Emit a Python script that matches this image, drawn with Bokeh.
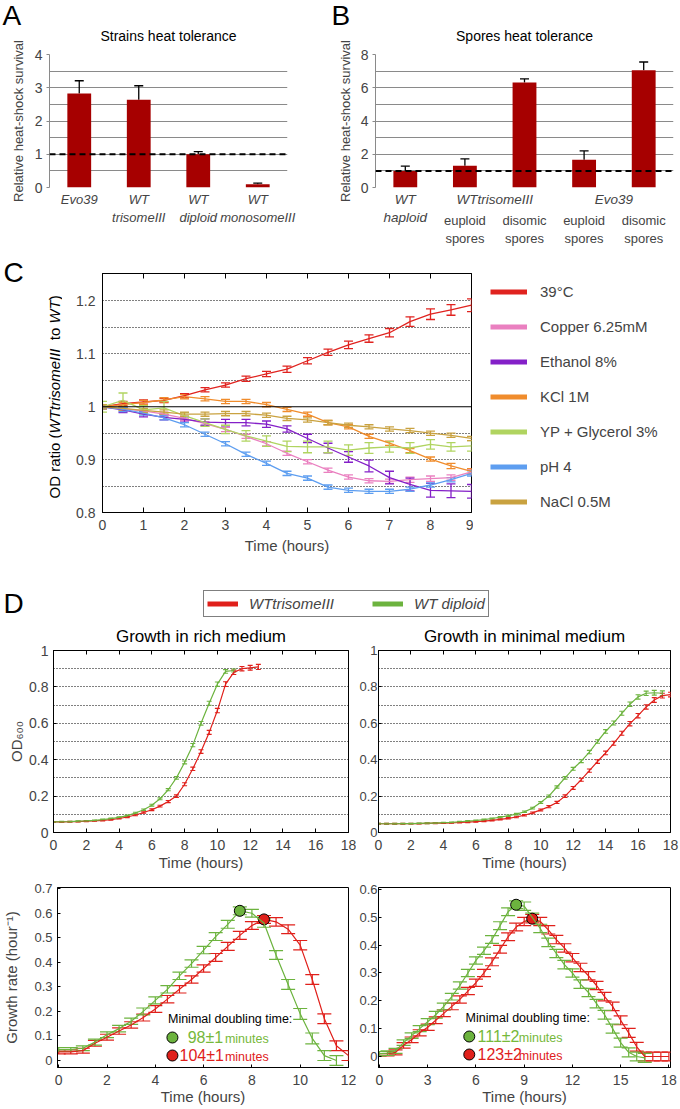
import math
from bokeh.plotting import figure
from bokeh.models import (ColumnDataSource, Whisker, TeeHead, Span, Label, Legend,
                          LegendItem, FixedTicker, LinearAxis, Range1d, Title)
from bokeh.layouts import column, row
from bokeh.embed import file_html
from bokeh.resources import INLINE

FONT = "Liberation Sans"
NAN = float("nan")

# ---------------- Panel A data ----------------
strains = ["Evo39", "WT trisomeIII", "WT diploid", "WT monosomeIII"]
strain_label_lines = [["Evo39"], ["WT", "trisomeIII"], ["WT", "diploid"], ["WT", "monosomeIII"]]
strain_survival = [2.83, 2.64, 1.00, 0.10]
strain_survival_err = [0.38, 0.42, 0.08, 0.03]
ticks_a = [0, 1, 2, 3, 4]

# ---------------- Panel B data ----------------
spore_strain = ["WT", "WTtrisomeIII", "WTtrisomeIII", "Evo39", "Evo39"]
spore_kind = ["haploid", "euploid spores", "disomic spores", "euploid spores", "disomic spores"]
spore_survival = [1.00, 1.31, 6.31, 1.67, 7.06]
spore_survival_err = [0.28, 0.41, 0.22, 0.53, 0.49]
ticks_b = [0, 2, 4, 6, 8]

# ---------------- Panel C data ----------------
hours_c = [0.0, 0.5, 1.0, 1.5, 2.0, 2.5, 3.0, 3.5, 4.0, 4.5, 5.0, 5.5, 6.0, 6.5, 7.0, 7.5, 8.0, 8.5, 9.0]
conditions = ["39°C", "Copper 6.25mM", "Ethanol 8%", "KCl 1M", "YP + Glycerol 3%", "pH 4", "NaCl 0.5M"]
condition_colors = ["#e0231f", "#ea80c0", "#8420c8", "#f08c2c", "#b0d460", "#5e9ef0", "#c9a240"]
ratio_39c = [1.000, 1.006, 1.009, 1.012, 1.021, 1.032, 1.041, 1.053, 1.062, 1.071, 1.087, 1.103, 1.117, 1.129, 1.140, 1.161, 1.175, 1.183, 1.192]
err_39c = [0.004, 0.004, 0.004, 0.004, 0.004, 0.004, 0.004, 0.005, 0.005, 0.006, 0.006, 0.006, 0.007, 0.007, 0.008, 0.009, 0.010, 0.010, 0.012]
ratio_copper = [1.000, 0.996, 0.992, 0.986, 0.978, 0.968, 0.957, 0.944, 0.930, 0.912, 0.896, 0.880, 0.867, 0.860, 0.859, 0.862, 0.864, 0.866, 0.877]
err_copper = [0.004, 0.004, 0.004, 0.004, 0.004, 0.004, 0.004, 0.004, 0.004, 0.004, 0.004, 0.004, 0.004, 0.004, 0.004, 0.005, 0.005, 0.005, 0.005]
ratio_ethanol = [1.000, 0.994, 0.986, 0.980, 0.976, 0.971, 0.970, 0.970, 0.967, 0.958, 0.940, 0.922, 0.905, 0.888, 0.866, 0.853, 0.842, 0.841, 0.840]
err_ethanol = [0.004, 0.005, 0.005, 0.005, 0.005, 0.006, 0.006, 0.006, 0.006, 0.006, 0.008, 0.009, 0.010, 0.011, 0.012, 0.012, 0.013, 0.013, 0.013]
ratio_kcl = [1.000, 1.004, 1.008, 1.013, 1.019, 1.015, 1.010, 1.010, 1.004, 0.995, 0.986, 0.970, 0.962, 0.944, 0.931, 0.917, 0.901, 0.888, 0.878]
err_kcl = [0.004, 0.004, 0.004, 0.004, 0.004, 0.004, 0.004, 0.004, 0.004, 0.004, 0.004, 0.004, 0.004, 0.004, 0.004, 0.004, 0.004, 0.005, 0.005]
ratio_glycerol = [1.000, 1.012, 0.994, 0.998, 0.983, 0.970, 0.957, 0.945, 0.935, 0.925, 0.924, 0.924, 0.918, 0.922, 0.924, 0.922, 0.929, 0.924, 0.926]
err_glycerol = [0.010, 0.014, 0.008, 0.012, 0.006, 0.007, 0.008, 0.010, 0.010, 0.010, 0.011, 0.011, 0.010, 0.010, 0.010, 0.010, 0.009, 0.008, 0.010]
ratio_ph4 = [1.000, 0.995, 0.988, 0.979, 0.966, 0.948, 0.930, 0.910, 0.893, 0.874, 0.865, 0.848, 0.842, 0.840, 0.840, 0.844, 0.852, 0.862, 0.874]
err_ph4 = [0.004, 0.004, 0.004, 0.004, 0.004, 0.004, 0.004, 0.004, 0.004, 0.004, 0.004, 0.004, 0.004, 0.004, 0.004, 0.004, 0.004, 0.004, 0.005]
ratio_nacl = [1.000, 0.997, 0.993, 0.990, 0.986, 0.986, 0.987, 0.987, 0.984, 0.978, 0.975, 0.970, 0.965, 0.962, 0.958, 0.955, 0.950, 0.946, 0.940]
err_nacl = [0.004, 0.004, 0.004, 0.004, 0.004, 0.004, 0.004, 0.004, 0.004, 0.004, 0.004, 0.004, 0.004, 0.004, 0.004, 0.004, 0.004, 0.004, 0.004]
ticks_c_x = [0, 1, 2, 3, 4, 5, 6, 7, 8, 9]
ticks_c_y = [0.8, 0.9, 1.0, 1.1, 1.2]
grid_c_y = [0.85, 0.9, 0.95, 1.05, 1.1, 1.15, 1.2]
# y-axis title of C, as (text, font style, leading spaces)
c_ylabel_parts = [("OD ratio (", "normal", 0), ("WTtrisomeIII", "italic", 0), ("to", "normal", 2),
                  ("WT", "italic", 1), (")", "normal", 0)]

# ---------------- Panel D data ----------------
strain_names = ["WTtrisomeIII", "WT diploid"]
strain_colors = ["#e0201b", "#6cb33e"]

hours_rich = [0.0, 0.5, 1.0, 1.5, 2.0, 2.5, 3.0, 3.5, 4.0, 4.5, 5.0, 5.5, 6.0, 6.5, 7.0, 7.5, 8.0, 8.5, 9.0, 9.5, 10.0, 10.5, 11.0, 11.5, 12.0, 12.5]
od_rich_trisome = [0.058, 0.058, 0.059, 0.060, 0.062, 0.064, 0.067, 0.071, 0.077, 0.085, 0.096, 0.110, 0.125, 0.145, 0.170, 0.200, 0.265, 0.350, 0.445, 0.550, 0.670, 0.815, 0.880, 0.900, 0.905, 0.910]
od_rich_trisome_err = [0.002, 0.002, 0.002, 0.002, 0.002, 0.002, 0.003, 0.003, 0.003, 0.003, 0.004, 0.004, 0.005, 0.005, 0.006, 0.007, 0.008, 0.009, 0.010, 0.011, 0.012, 0.013, 0.012, 0.012, 0.013, 0.014]
od_rich_diploid = [0.058, 0.059, 0.060, 0.062, 0.064, 0.067, 0.071, 0.076, 0.083, 0.093, 0.107, 0.125, 0.150, 0.185, 0.235, 0.300, 0.385, 0.480, 0.600, 0.710, 0.815, 0.885, 0.890]
od_rich_diploid_err = [0.002, 0.002, 0.002, 0.002, 0.002, 0.002, 0.003, 0.003, 0.003, 0.003, 0.004, 0.004, 0.005, 0.005, 0.006, 0.007, 0.008, 0.009, 0.010, 0.011, 0.012, 0.010, 0.008]

hours_min = [0.0, 0.5, 1.0, 1.5, 2.0, 2.5, 3.0, 3.5, 4.0, 4.5, 5.0, 5.5, 6.0, 6.5, 7.0, 7.5, 8.0, 8.5, 9.0, 9.5, 10.0, 10.5, 11.0, 11.5, 12.0, 12.5, 13.0, 13.5, 14.0, 14.5, 15.0, 15.5, 16.0, 16.5, 17.0, 17.5, 18.0]
od_min_trisome = [0.048, 0.048, 0.048, 0.048, 0.049, 0.049, 0.050, 0.051, 0.052, 0.053, 0.055, 0.057, 0.060, 0.063, 0.067, 0.072, 0.078, 0.085, 0.095, 0.108, 0.124, 0.142, 0.165, 0.200, 0.245, 0.290, 0.340, 0.390, 0.437, 0.490, 0.545, 0.598, 0.642, 0.690, 0.728, 0.752, 0.758]
od_min_trisome_err = [0.002, 0.002, 0.002, 0.002, 0.002, 0.002, 0.002, 0.002, 0.002, 0.002, 0.002, 0.003, 0.003, 0.003, 0.003, 0.003, 0.004, 0.004, 0.004, 0.005, 0.005, 0.006, 0.006, 0.007, 0.008, 0.008, 0.009, 0.010, 0.010, 0.011, 0.011, 0.012, 0.012, 0.012, 0.013, 0.013, 0.013]
od_min_diploid = [0.048, 0.048, 0.048, 0.049, 0.049, 0.050, 0.051, 0.052, 0.054, 0.056, 0.059, 0.062, 0.066, 0.071, 0.077, 0.084, 0.092, 0.101, 0.114, 0.134, 0.165, 0.200, 0.250, 0.300, 0.350, 0.392, 0.442, 0.500, 0.555, 0.602, 0.655, 0.705, 0.745, 0.765, 0.768, 0.765]
od_min_diploid_err = [0.002, 0.002, 0.002, 0.002, 0.002, 0.002, 0.002, 0.002, 0.002, 0.002, 0.002, 0.003, 0.003, 0.003, 0.003, 0.003, 0.004, 0.004, 0.004, 0.005, 0.005, 0.006, 0.006, 0.007, 0.008, 0.008, 0.009, 0.010, 0.010, 0.011, 0.011, 0.012, 0.012, 0.012, 0.013, 0.013]

hours_rate_rich = [0.0, 0.5, 1.0, 1.5, 2.0, 2.5, 3.0, 3.5, 4.0, 4.5, 5.0, 5.5, 6.0, 6.5, 7.0, 7.5, 8.0, 8.5, 9.0, 9.5, 10.0, 10.5, 11.0, 11.5, 12.0]
rate_rich_trisome = [0.035, 0.035, 0.040, 0.070, 0.095, 0.120, 0.145, 0.175, 0.210, 0.250, 0.290, 0.330, 0.375, 0.420, 0.465, 0.510, 0.550, 0.575, 0.565, 0.535, 0.470, 0.330, 0.170, 0.060, 0.020]
rate_rich_trisome_err = [0.008, 0.008, 0.010, 0.012, 0.012, 0.013, 0.013, 0.014, 0.014, 0.015, 0.015, 0.015, 0.015, 0.016, 0.016, 0.016, 0.016, 0.016, 0.017, 0.018, 0.019, 0.020, 0.020, 0.020, 0.020]
rate_rich_diploid = [0.045, 0.045, 0.050, 0.075, 0.105, 0.130, 0.160, 0.200, 0.245, 0.290, 0.345, 0.395, 0.450, 0.505, 0.555, 0.610, 0.600, 0.560, 0.430, 0.310, 0.190, 0.090, 0.020, 0.000]
rate_rich_diploid_err = [0.008, 0.008, 0.010, 0.012, 0.012, 0.013, 0.013, 0.014, 0.014, 0.015, 0.015, 0.015, 0.015, 0.016, 0.016, 0.016, 0.016, 0.017, 0.018, 0.020, 0.022, 0.022, 0.020, 0.020]

hours_rate_min = [0.0, 0.5, 1.0, 1.5, 2.0, 2.5, 3.0, 3.5, 4.0, 4.5, 5.0, 5.5, 6.0, 6.5, 7.0, 7.5, 8.0, 8.5, 9.0, 9.5, 10.0, 10.5, 11.0, 11.5, 12.0, 12.5, 13.0, 13.5, 14.0, 14.5, 15.0, 15.5, 16.0, 16.5, 17.0, 17.5, 18.0]
rate_min_trisome = [0.010, 0.010, 0.015, 0.040, 0.060, 0.085, 0.105, 0.130, 0.155, 0.180, 0.205, 0.235, 0.265, 0.300, 0.340, 0.385, 0.430, 0.465, 0.485, 0.495, 0.485, 0.455, 0.420, 0.390, 0.355, 0.320, 0.290, 0.255, 0.215, 0.180, 0.130, 0.085, 0.035, 0.000, 0.000, 0.000, 0.000]
rate_min_trisome_err = [0.008, 0.008, 0.009, 0.010, 0.010, 0.011, 0.011, 0.012, 0.012, 0.012, 0.013, 0.013, 0.013, 0.013, 0.014, 0.014, 0.014, 0.014, 0.015, 0.015, 0.015, 0.015, 0.015, 0.015, 0.015, 0.015, 0.015, 0.015, 0.015, 0.015, 0.016, 0.016, 0.016, 0.016, 0.016, 0.016, 0.016]
rate_min_diploid = [0.010, 0.012, 0.020, 0.050, 0.075, 0.100, 0.125, 0.150, 0.180, 0.215, 0.255, 0.300, 0.345, 0.380, 0.420, 0.470, 0.520, 0.545, 0.540, 0.500, 0.460, 0.410, 0.370, 0.330, 0.300, 0.260, 0.230, 0.190, 0.150, 0.100, 0.050, 0.015, 0.000, -0.005]
rate_min_diploid_err = [0.008, 0.008, 0.009, 0.010, 0.010, 0.011, 0.011, 0.012, 0.012, 0.012, 0.013, 0.013, 0.013, 0.013, 0.014, 0.014, 0.014, 0.014, 0.015, 0.015, 0.015, 0.015, 0.015, 0.015, 0.015, 0.015, 0.015, 0.015, 0.016, 0.016, 0.016, 0.016, 0.016, 0.016]

doubling_label = "Minimal doubling time:"
doubling_rich = ["98±1", "104±1"]      # diploid, trisome
doubling_min = ["111±2", "123±2"]      # diploid, trisome

ticks_od_x = [0, 2, 4, 6, 8, 10, 12, 14, 16, 18]
ticks_od_y = [0, 0.2, 0.4, 0.6, 0.8, 1.0]
grid_od_y = [0.1, 0.2, 0.3, 0.4, 0.5, 0.6, 0.7, 0.8, 0.9]
ticks_rate_rich_x = [0, 2, 4, 6, 8, 10, 12]
ticks_rate_rich_y = [0, 0.1, 0.2, 0.3, 0.4, 0.5, 0.6, 0.7]
ticks_rate_min_x = [0, 3, 6, 9, 12, 15, 18]
ticks_rate_min_y = [0, 0.1, 0.2, 0.3, 0.4, 0.5, 0.6]

BAR = "#a60000"
GRAY = "#8a8a8a"
TEXT_COLORS = ["#76b83a", "#e0201b"]

# Arial / Liberation Sans advance widths (1/1000 em) used to lay out the mixed-style label
ADV = {" ": 278, "(": 333, ")": 333, "O": 778, "D": 722, "r": 333, "a": 556, "t": 278,
       "i": 222, "o": 556, "W": 944, "T": 611, "s": 500, "m": 833, "e": 556, "I": 278}


def text_width(s, size):
    return sum(ADV.get(c, 556) for c in s) * size / 1000.0


class Geo:
    """Figure placement in page pixels; converts page pixels to data coords."""
    def __init__(self, ox, oy, w, h, left, right, top, bottom, xr, yr):
        self.w, self.h = w, h
        self.left, self.right, self.top, self.bottom = left, right, top, bottom
        self.xr, self.yr = xr, yr
        self.fl = ox + left
        self.fr = ox + w - right
        self.ft = oy + top
        self.fb = oy + h - bottom

    def x(self, px):
        return self.xr[0] + (px - self.fl) / (self.fr - self.fl) * (self.xr[1] - self.xr[0])

    def y(self, py):
        return self.yr[0] + (self.fb - py) / (self.fb - self.ft) * (self.yr[1] - self.yr[0])


def mk(g):
    p = figure(width=g.w, height=g.h, x_range=Range1d(g.xr[0], g.xr[1]),
               y_range=Range1d(g.yr[0], g.yr[1]), output_backend="svg", title=None,
               toolbar_location=None, min_border_left=g.left, min_border_right=g.right,
               min_border_top=g.top, min_border_bottom=g.bottom)
    p.grid.visible = False
    p.outline_line_color = "black"
    p.border_fill_color = "white"
    for ax in p.axis:
        ax.major_label_text_font = FONT
        ax.axis_label_text_font = FONT
        ax.axis_label_text_font_style = "normal"
        ax.minor_tick_line_color = None
        ax.axis_line_color = "black"
        ax.major_tick_line_color = "black"
    return p


def blank(g):
    p = mk(g)
    p.axis.visible = False
    p.outline_line_color = None
    return p


def title(p, text, size, side="above", align="center", offset=0, standoff=10):
    p.add_layout(Title(text=text, align=align, offset=offset, standoff=standoff,
                       vertical_align="middle", text_font=FONT, text_font_size=f"{size}px",
                       text_font_style="normal", text_color="black"), side)


def top_ticks(p, ticks, length):
    p.add_layout(LinearAxis(ticker=FixedTicker(ticks=ticks), major_tick_in=length,
                            major_tick_out=0, major_label_text_color=None,
                            major_label_text_font_size="1px", major_label_standoff=0,
                            axis_line_color="black", minor_tick_line_color=None), "above")


def put(p, x, y, s, size, color="black", align="left", style="normal", angle=0.0):
    p.add_layout(Label(x=x, y=y, text=s, text_font=FONT, text_font_size=f"{size}px",
                       text_align=align, text_baseline="middle", text_color=color,
                       text_font_style=style, angle=angle))


def whiskers(p, xs, vals, errs, color, size, width=1.2, upper_only=False):
    lo = list(vals) if upper_only else [v - e for v, e in zip(vals, errs)]
    hi = [v + e for v, e in zip(vals, errs)]
    src = ColumnDataSource(dict(x=list(xs), lo=lo, hi=hi))
    head = lambda: TeeHead(size=size, line_color=color, line_width=width)
    p.add_layout(Whisker(source=src, base="x", lower="lo", upper="hi",
                         line_color=color, line_width=width, upper_head=head(),
                         lower_head=None if upper_only else head()))


def bar_panel(g, values, errs, ticks, ttl, letter, letter_offset, ylabel_standoff):
    p = mk(g)
    p.outline_line_color = None
    p.ygrid.visible = True
    p.ygrid.ticker = FixedTicker(ticks=[ticks[-1] * k / 8 for k in range(9)])
    p.ygrid.grid_line_color = GRAY
    ya = p.yaxis[0]
    ya.ticker = FixedTicker(ticks=ticks)
    ya.axis_line_color = GRAY
    ya.major_tick_line_color = GRAY
    ya.major_tick_out = 3
    ya.major_tick_in = 0
    ya.major_label_standoff = 4
    ya.major_label_text_font_size = "14px"
    ya.axis_label = "Relative heat-shock survival"
    ya.axis_label_text_font_size = "13px"
    ya.axis_label_standoff = ylabel_standoff
    xa = p.xaxis[0]
    xa.axis_line_color = None
    xa.major_tick_line_color = None
    xa.major_tick_out = 0
    xa.major_tick_in = 0
    xa.major_label_standoff = 4
    xa.major_label_text_font_size = "13.5px"
    xa.major_label_text_font_style = "italic"
    idx = list(range(len(values)))
    p.vbar(x=idx, top=values, width=0.4, fill_color=BAR, line_color=None)
    whiskers(p, idx, values, errs, "black", 9, 1.3, upper_only=True)
    p.add_layout(Span(location=1, dimension="width", line_color="black",
                      line_dash="6 4", line_width=2))
    title(p, ttl, 14, standoff=20)
    title(p, letter, 28, align="left", offset=letter_offset, standoff=-31)
    return p


# ---------------- Panel A ----------------
gA = Geo(0, 0, 330, 248, 49, 43, 54, 58, (-0.5, 3.5), (0, 4))
pA = bar_panel(gA, strain_survival, strain_survival_err, ticks_a,
               "Strains heat tolerance", "A", -47, 6)
xa = pA.xaxis[0]
xa.major_label_text_font_size = "13px"
xa.ticker = FixedTicker(ticks=list(range(len(strains))))
xa.major_label_overrides = {i: "\n".join(lines) for i, lines in enumerate(strain_label_lines)}

# ---------------- Panel B ----------------
gB = Geo(330, 0, 350, 248, 45, 7, 54, 58, (-0.5, 4.5), (0, 8))
pB = bar_panel(gB, spore_survival, spore_survival_err, ticks_b,
               "Spores heat tolerance", "B", -44, 5)
groups = []
for s in spore_strain:
    if s not in groups:
        groups.append(s)
group_pos, group_text = [], {}
for s in groups:
    pos = [i for i, t in enumerate(spore_strain) if t == s]
    c = sum(pos) / len(pos)
    group_pos.append(c)
    group_text[c] = s + ("\n" + spore_kind[pos[0]] if len(pos) == 1 else "")
xa = pB.xaxis[0]
xa.ticker = FixedTicker(ticks=group_pos)
xa.major_label_overrides = group_text
kind_pos = [i for i, t in enumerate(spore_strain) if spore_strain.count(t) > 1]
kind_ax = LinearAxis(ticker=FixedTicker(ticks=kind_pos),
                     major_label_overrides={i: spore_kind[i].replace(" ", "\n") for i in kind_pos},
                     axis_line_color=None, major_tick_line_color=None, major_tick_out=0,
                     major_tick_in=0, minor_tick_line_color=None, major_label_standoff=-15,
                     major_label_text_font=FONT, major_label_text_font_size="13px")
pB.add_layout(kind_ax, "below")

# ---------------- Panel C ----------------
# strip on the left carrying the letter and the mixed-style y-axis title
gCY = Geo(0, 248, 62, 327, 0, 0, 25, 63, (0, 62), (0, 239))
pCY = blank(gCY)
title(pCY, "C", 28, align="left", offset=3, standoff=-31)
cursor = 498.0
for s, style, spaces in c_ylabel_parts:
    cursor -= spaces * text_width(" ", 15)
    put(pCY, gCY.x(53.5), gCY.y(cursor), s, 15, style=style, angle=math.pi / 2)
    cursor -= text_width(s, 15)

gC = Geo(62, 248, 411, 327, 40, 2, 25, 63, (0, 9), (0.8, 1.252))
pC = mk(gC)
xa = pC.xaxis[0]
xa.ticker = FixedTicker(ticks=ticks_c_x)
xa.major_tick_in = 5
xa.major_tick_out = 0
xa.major_label_standoff = 7
xa.major_label_text_font_size = "14px"
xa.axis_label = "Time (hours)"
xa.axis_label_text_font_size = "15px"
xa.axis_label_standoff = 4
top_ticks(pC, ticks_c_x, 5)
ya = pC.yaxis[0]
ya.ticker = FixedTicker(ticks=ticks_c_y)
ya.major_label_overrides = {1.0: "1"}
ya.major_tick_in = 0
ya.major_tick_out = 0
ya.major_label_standoff = 7
ya.major_label_text_font_size = "14px"
pC.ygrid.visible = True
pC.ygrid.ticker = FixedTicker(ticks=grid_c_y)
pC.ygrid.grid_line_color = "black"
pC.ygrid.grid_line_dash = "1 2"
pC.add_layout(Span(location=1.0, dimension="width", line_color="black", line_width=1.2))

c_series = [ratio_39c, ratio_copper, ratio_ethanol, ratio_kcl, ratio_glycerol, ratio_ph4, ratio_nacl]
c_errors = [err_39c, err_copper, err_ethanol, err_kcl, err_glycerol, err_ph4, err_nacl]
for name, col, vals, errs in zip(conditions, condition_colors, c_series, c_errors):
    pC.line(hours_c, vals, line_color=col, line_width=1.3)
    whiskers(pC, hours_c, vals, errs, col, 9, 1.3)

# legend of C in its own blank figure to the right of the plot
gCL = Geo(473, 248, 207, 327, 0, 0, 25, 63, (0, 207), (0, 239))
pCL = blank(gCL)
c_items = []
for name, col in zip(conditions, condition_colors):
    proxy = pCL.line(x=[NAN], y=[NAN], line_color=col, line_width=5)
    c_items.append(LegendItem(label=name, renderers=[proxy]))
pCL.add_layout(Legend(items=c_items, location=(490 - gCL.fl, 2), glyph_width=37,
                      glyph_height=17, label_height=17, label_standoff=13, spacing=18,
                      padding=0, margin=0, border_line_color=None, background_fill_alpha=0,
                      label_text_font=FONT, label_text_font_size="15px"))

# ---------------- Panel D legend strip ----------------
gL = Geo(0, 575, 680, 43, 0, 0, 0, 0, (0, 680), (0, 43))
pL = figure(width=gL.w, height=gL.h, x_range=Range1d(0, 680), y_range=Range1d(0, 43),
            output_backend="svg", toolbar_location=None, title=None, min_border=0)
pL.axis.visible = False
pL.grid.visible = False
pL.outline_line_color = None
d_items = []
for name, col in zip(strain_names, strain_colors):
    proxy = pL.line(x=[NAN], y=[NAN], line_color=col, line_width=5)
    d_items.append(LegendItem(label=name, renderers=[proxy]))
pL.add_layout(Legend(items=d_items, orientation="horizontal", location=(203, 1),
                     glyph_width=31, glyph_height=19, label_height=19, label_standoff=11,
                     spacing=38, padding=3, margin=0, border_line_color="black",
                     border_line_width=1, background_fill_alpha=0, label_text_font=FONT,
                     label_text_font_size="15px", label_text_font_style="italic"))
put(pL, gL.x(3), gL.y(602.5), "D", 28)


# ---------------- Panel D growth curves ----------------
def od_panel(g, ylabel, ttl, curves, tick_standoff):
    p = mk(g)
    xa = p.xaxis[0]
    xa.ticker = FixedTicker(ticks=ticks_od_x)
    xa.major_tick_in = 4
    xa.major_tick_out = 0
    xa.major_label_standoff = 7
    xa.major_label_text_font_size = "14px"
    xa.axis_label = "Time (hours)"
    xa.axis_label_text_font_size = "15px"
    xa.axis_label_standoff = 1
    top_ticks(p, ticks_od_x, 4)
    ya = p.yaxis[0]
    ya.ticker = FixedTicker(ticks=ticks_od_y)
    ya.major_label_overrides = {0: "0", 1.0: "1"}
    ya.major_tick_in = 3
    ya.major_tick_out = 0
    ya.major_label_standoff = tick_standoff
    ya.major_label_text_font_size = "14px" if ylabel else "13px"
    if ylabel:
        ya.axis_label = ylabel
        ya.axis_label_text_font_size = "15px"
        ya.axis_label_standoff = 1
    p.ygrid.visible = True
    p.ygrid.ticker = FixedTicker(ticks=grid_od_y)
    p.ygrid.grid_line_color = "black"
    p.ygrid.grid_line_dash = "1 2"
    for xs, vals, errs, col in curves:
        p.line(xs[:len(vals)], vals, line_color=col, line_width=1.2)
        whiskers(p, xs[:len(vals)], vals, errs, col, 5, 1.1)
    title(p, ttl, 17, standoff=8)
    return p


gD1 = Geo(0, 618, 356, 260, 53, 8, 32, 46, (0, 18), (0, 1))
pD1 = od_panel(gD1, "OD₆₀₀", "Growth in rich medium",
               [(hours_rich, od_rich_trisome, od_rich_trisome_err, strain_colors[0]),
                (hours_rich, od_rich_diploid, od_rich_diploid_err, strain_colors[1])], 5)
gD2 = Geo(356, 618, 324, 260, 19, 10, 32, 46, (0, 18), (0, 1))
pD2 = od_panel(gD2, None, "Growth in minimal medium",
               [(hours_min, od_min_trisome, od_min_trisome_err, strain_colors[0]),
                (hours_min, od_min_diploid, od_min_diploid_err, strain_colors[1])], 1)


def rate_panel(g, ticks_x, ticks_y, curves, ylabel, tick_standoff, doubling, key):
    p = mk(g)
    xa = p.xaxis[0]
    xa.ticker = FixedTicker(ticks=ticks_x)
    xa.major_tick_in = 3
    xa.major_tick_out = 0
    xa.major_label_standoff = 7
    xa.major_label_text_font_size = "14px"
    xa.axis_label = "Time (hours)"
    xa.axis_label_text_font_size = "15px"
    xa.axis_label_standoff = 0
    ya = p.yaxis[0]
    ya.ticker = FixedTicker(ticks=ticks_y)
    ya.major_label_overrides = {0: "0"}
    ya.major_tick_in = 3
    ya.major_tick_out = 0
    ya.major_label_standoff = tick_standoff
    ya.major_label_text_font_size = "13px"
    if ylabel:
        ya.axis_label = ylabel
        ya.axis_label_text_font_size = "15px"
        ya.axis_label_standoff = 11
    for xs, vals, errs, col in curves:
        xx = xs[:len(vals)]
        p.line(xx, vals, line_color=col, line_width=1.2)
        whiskers(p, xx, vals, errs, col, 14, 1.2)
        k = vals.index(max(vals))
        p.scatter([xx[k]], [vals[k]], size=11, marker="circle", fill_color=col,
                  line_color="black", line_width=1)
    # key: "Minimal doubling time:" with coloured circles (diploid first, then trisome)
    tx, ty, cx, num_x, min_x = key
    put(p, g.x(tx), g.y(ty), doubling_label, 12.5)
    key_cols = [strain_colors[1], strain_colors[0]]
    for j in range(2):
        cy = ty + 19 + 18 * j
        p.scatter([g.x(cx)], [g.y(cy)], size=11, marker="circle", fill_color=key_cols[j],
                  line_color="black", line_width=1)
        put(p, g.x(num_x[j]), g.y(cy), doubling[j], 16, color=TEXT_COLORS[j])
        put(p, g.x(min_x), g.y(cy + 1), "minutes", 12.5, color=TEXT_COLORS[j])
    return p


gD3 = Geo(0, 878, 356, 231, 53, 8, 9, 42, (-0.05, 12), (-0.0285, 0.705))
pD3 = rate_panel(gD3, ticks_rate_rich_x, ticks_rate_rich_y,
                 [(hours_rate_rich, rate_rich_trisome, rate_rich_trisome_err, strain_colors[0]),
                  (hours_rate_rich, rate_rich_diploid, rate_rich_diploid_err, strain_colors[1])],
                 "Growth rate (hour⁻¹)", 5, doubling_rich, (165, 1018, 169.5, (185, 176.7), 222.7))
gD4 = Geo(356, 878, 324, 231, 19, 10, 9, 42, (-0.06, 18.1), (-0.0395, 0.607))
pD4 = rate_panel(gD4, ticks_rate_min_x, ticks_rate_min_y,
                 [(hours_rate_min, rate_min_trisome, rate_min_trisome_err, strain_colors[0]),
                  (hours_rate_min, rate_min_diploid, rate_min_diploid_err, strain_colors[1])],
                 None, 1, doubling_min, (463, 1017, 466.7, (475, 475), 516.7))

layout = column(row(pA, pB), row(pCY, pC, pCL), row(pL), row(pD1, pD2), row(pD3, pD4))
open("out.html", "w").write(file_html(layout, INLINE))
